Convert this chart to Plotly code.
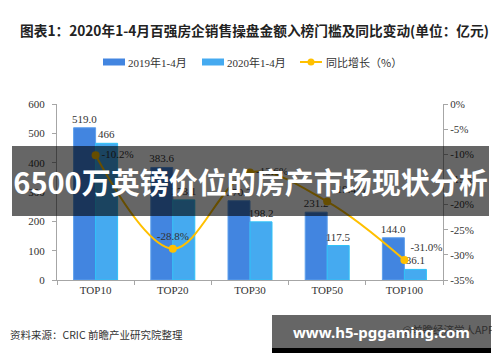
import plotly.graph_objects as go

# ---- data ----
categories = ["TOP10", "TOP20", "TOP30", "TOP50", "TOP100"]
sales_2019 = [519.0, 383.6, 270.2, 231.2, 144.0]
sales_2020 = [466, 273.1, 198.2, 117.5, 36.1]
growth_pct = [-10.2, -28.8, -13.6, -19.4, -31.0]
labels_2019 = ["519.0", "383.6", "270.2", "231.2", "144.0"]
labels_2020 = ["466", "273.1", "198.2", "117.5", "36.1"]
labels_growth = ["-10.2%", "-28.8%", "-13.6%", "-19.4%", "-31.0%"]
left_ticks = [0, 100, 200, 300, 400, 500, 600]
right_ticks = [0, -5, -10, -15, -20, -25, -30, -35]
right_tick_labels = ["0%", "-5%", "-10%", "-15%", "-20%", "-25%", "-30%", "-35%"]

C2019 = "#4285E0"
C2020 = "#45AAF0"
CLINE = "#FFC000"
SERIF = "Liberation Serif, Times New Roman, Noto Sans CJK SC, serif"
CJK = "Noto Sans CJK SC, sans-serif"
AXC = "#A6A6A6"

# plot area in screen pixels: x 57..443, y 104..280 (page body adds an 8px offset)
def px(x):
    return (x - 57) / 386.0

def py(y):
    return (280 - y) / 176.0

fig = go.Figure()
fig.add_trace(go.Bar(
    x=categories, y=sales_2019, name="2019年1-4月",
    marker=dict(color=C2019, line=dict(color="#5FA0EC", width=1)),
    text=labels_2019, textposition="outside", constraintext="none", cliponaxis=False,
    outsidetextfont=dict(family=SERIF, size=11, color="#333333"),
))
fig.add_trace(go.Bar(
    x=categories, y=sales_2020, name="2020年1-4月",
    marker=dict(color=C2020, line=dict(color="#2EC2F7", width=1)),
    text=labels_2020, textposition="outside", constraintext="none", cliponaxis=False,
    outsidetextfont=dict(family=SERIF, size=11, color="#333333"),
))
fig.add_trace(go.Scatter(
    x=categories, y=growth_pct, name="同比增长（%）", yaxis="y2",
    mode="lines+markers+text", line=dict(color=CLINE, width=2, shape="spline", smoothing=1),
    marker=dict(color=CLINE, size=8),
    text=labels_growth,
    textposition=["middle right", "top center", "middle right", "top right", "top right"],
    textfont=dict(family=SERIF, size=11, color="#333333"), cliponaxis=False,
))

axis_common = dict(showline=True, linecolor=AXC, linewidth=1, ticks="outside",
                   ticklen=4, tickcolor=AXC, showgrid=False, zeroline=False, automargin=False,
                   tickfont=dict(family=SERIF, size=11, color="#333333"))

fig.update_layout(
    width=500, height=362,
    margin=dict(l=49, r=65, t=96, b=90, autoexpand=False),
    paper_bgcolor="white", plot_bgcolor="white",
    showlegend=False, barmode="group", bargap=0.43, bargroupgap=0,
    xaxis=dict(type="category", tickson="boundaries", **axis_common),
    yaxis=dict(range=[0, 600], tickvals=left_ticks, ticklabelstandoff=5, **axis_common),
    yaxis2=dict(range=[-35, 0], tickvals=right_ticks, ticktext=right_tick_labels,
                overlaying="y", side="right", **axis_common),
)

shapes = [
    dict(type="rect", xref="paper", yref="paper", x0=px(103), x1=px(125), y0=py(65.5), y1=py(58.5),
         fillcolor=C2019, line=dict(width=0)),
    dict(type="rect", xref="paper", yref="paper", x0=px(202), x1=px(224), y0=py(65.5), y1=py(58.5),
         fillcolor=C2020, line=dict(width=0)),
    dict(type="line", xref="paper", yref="paper", x0=px(300), x1=px(322), y0=py(62), y1=py(62),
         line=dict(color=CLINE, width=2)),
    dict(type="circle", xref="paper", yref="paper", x0=px(307.5), x1=px(314.5), y0=py(65.5), y1=py(58.5),
         fillcolor=CLINE, line=dict(width=0)),
]

ann = []
def text_ann(x, y, text, size, color, family, xanchor="left", **kw):
    ann.append(dict(xref="paper", yref="paper", x=px(x), y=py(y), text=text, showarrow=False,
                    xanchor=xanchor, yanchor="middle", font=dict(size=size, color=color, family=family), **kw))

text_ann(18, 30, "<b>图表1：2020年1-4月百强房企销售操盘金额入榜门槛及同比变动(单位：亿元)</b>", 13.7, "#222222", CJK)
text_ann(126, 62, "2019年1-4月", 11, "#333333", SERIF)
text_ann(225, 62, "2020年1-4月", 11, "#333333", SERIF)
text_ann(324, 62, "同比增长（%）", 11, "#333333", CJK)
text_ann(8, 334, "资料来源：CRIC 前瞻产业研究院整理", 10.5, "#333333", CJK)
text_ann(497, 329, "@前瞻经济学人APP", 10.5, "#777777", CJK, xanchor="right")

# overlay banners
ann.append(dict(xref="paper", yref="paper", x=px(12), y=py(146), xanchor="left", yanchor="top",
                width=477, height=70, borderpad=0, borderwidth=0, bgcolor="rgba(0,0,0,0.6)",
                showarrow=False, align="center",
                text="<b>6500万英镑价位的房产市场现状分析</b>",
                font=dict(size=29, color="white", family=CJK)))
ann.append(dict(xref="paper", yref="paper", x=px(272), y=py(348), xanchor="left", yanchor="top",
                width=219, height=5, borderpad=0, borderwidth=0, bgcolor="black",
                showarrow=False, text=" ", font=dict(size=2)))
ann.append(dict(xref="paper", yref="paper", x=px(272), y=py(315), xanchor="left", yanchor="top",
                width=219, height=34, borderpad=0, borderwidth=0, bgcolor="rgba(0,0,0,0.6)",
                showarrow=False, align="center",
                text="<b>www.h5-pggaming.com</b>",
                font=dict(size=15, color="white", family="Noto Sans, sans-serif")))

fig.update_layout(shapes=shapes, annotations=ann)
fig.write_html("out.html")
